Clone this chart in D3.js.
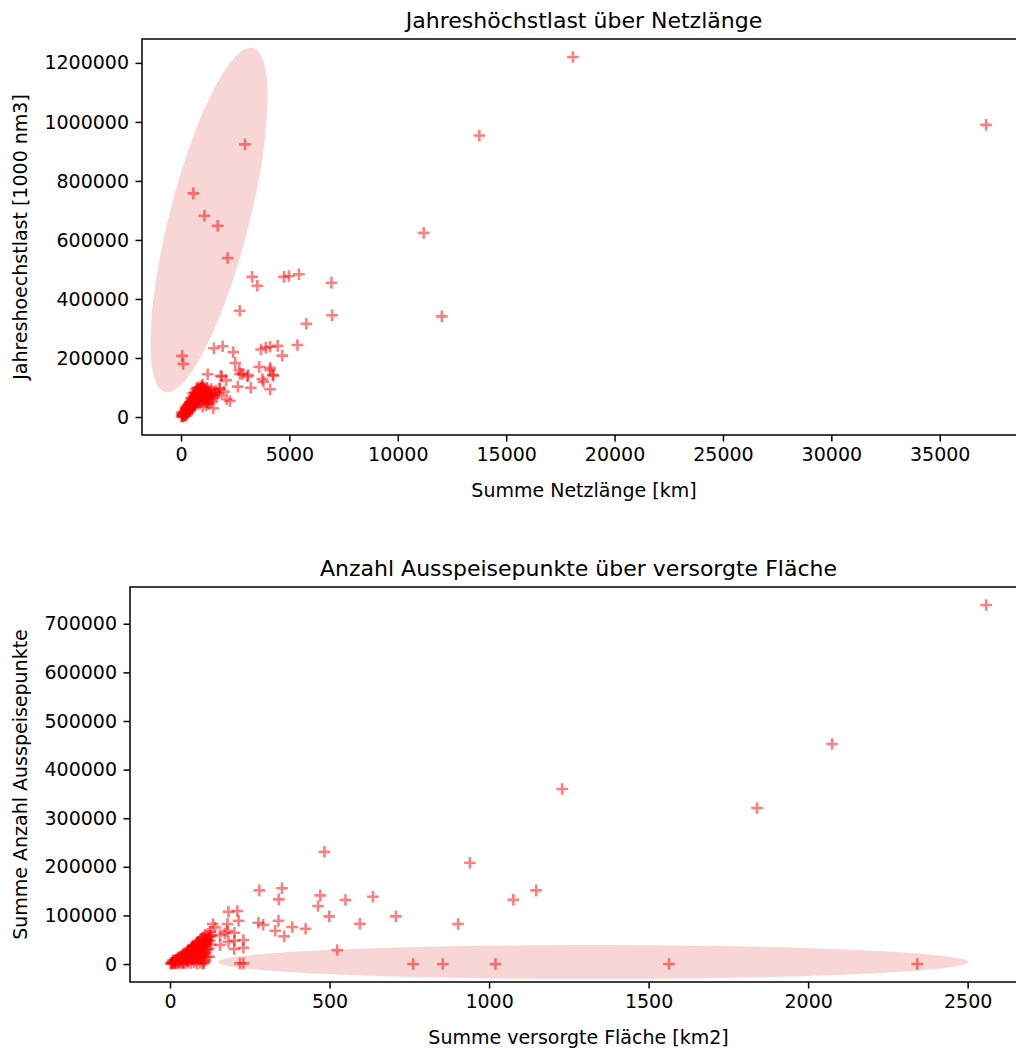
<!DOCTYPE html>
<html>
<head>
<meta charset="utf-8">
<script src="https://cdn.jsdelivr.net/npm/d3@7"></script>
<style>
  html, body { margin: 0; padding: 0; background: #fff; }
  svg { display: block; font-family: "DejaVu Sans", sans-serif; }
</style>
</head>
<body>
<svg id="chart" width="1016" height="1050"></svg>
<script>
// ---------------- DATA ----------------
// Chart 1: Jahreshöchstlast über Netzlänge
const netzlaenge = [
  // outliers / scattered
  18080, 37140, 13760, 2950, 570, 1080, 1690, 2150, 11200, 3280, 3520, 4750, 4980, 5440, 6940,
  2710, 6970, 12030, 5780, 50, 100, 1520, 1920, 2410, 2500, 3690, 3910, 4110, 4460, 5370, 4670,
  1230, 1830, 2720, 3100, 3610, 4110, 4230, 3750, 1880, 2080, 2690, 2830, 3060, 2620, 3220,
  4110, 4260, 3800, 4110, 1770, 1980, 2110, 2260, 1490,
  // dense cluster
  20, 50, 80, 100, 120, 150, 180, 200, 60, 220, 250, 280, 300, 30, 130,
  320, 350, 380, 400, 420, 450, 480, 500, 520, 550, 580, 600, 620, 650, 680, 700, 720, 750, 780, 800,
  400, 350, 450, 300, 550, 500, 600, 650, 250, 200,
  820, 850, 880, 900, 920, 950, 980, 1000, 1030, 1050, 1080, 1100, 1150, 1200, 1250, 1300, 1350,
  1400, 1450, 1500, 1550, 1600, 1100, 1000, 900, 1200, 1300, 700, 750, 1700, 1800, 1650, 1400,
  1150, 850, 1000, 1250,
  100, 150, 200, 250, 300, 350, 400, 450, 500, 550, 600, 650, 700, 750, 800, 850, 900, 950, 1000,
  1050, 1100, 1150, 1200, 1250, 1300, 180, 260, 340, 420, 500, 580, 660, 740, 820, 900, 980, 1060,
  1140, 1220, 1300, 1380, 230, 330, 430, 530, 630, 730, 830, 930
];
const hoechstlast = [
  1220000, 990000, 954000, 924000, 758000, 682000, 648000, 539000, 624000, 475000, 445000, 475000, 478000, 484000, 455000,
  360000, 345000, 341000, 316000, 207000, 180000, 233000, 240000, 220000, 183000, 229000, 235000, 238000, 241000, 244000, 208000,
  145000, 140000, 146000, 142000, 170000, 167000, 143000, 129000, 137000, 125000, 159000, 146000, 137000, 103000, 99000,
  159000, 140000, 120000, 94000, 97000, 86000, 60000, 54000, 29500,
  2000, 5000, 1000, 8000, 3000, 12000, 6000, 15000, 10000, 4000, 20000, 10000, 25000, 15000, 18000,
  15000, 30000, 40000, 22000, 35000, 45000, 28000, 55000, 38000, 60000, 48000, 70000, 42000, 65000, 55000, 80000, 50000, 72000, 62000, 90000,
  50000, 45000, 65000, 40000, 80000, 30000, 35000, 85000, 35000, 30000,
  75000, 100000, 85000, 95000, 68000, 105000, 80000, 110000, 90000, 100000, 75000, 95000, 85000, 100000, 70000, 90000, 80000,
  95000, 65000, 85000, 75000, 90000, 60000, 55000, 50000, 50000, 60000, 95000, 100000, 80000, 95000, 70000, 50000,
  40000, 45000, 35000, 45000,
  10000, 18000, 22000, 28000, 32000, 40000, 45000, 52000, 58000, 62000, 68000, 72000, 78000, 82000, 88000, 92000, 96000, 100000, 98000,
  94000, 90000, 86000, 82000, 78000, 74000, 8000, 12000, 20000, 26000, 34000, 42000, 50000, 56000, 62000, 70000, 76000, 70000,
  64000, 60000, 58000, 80000, 25000, 38000, 48000, 44000, 58000, 66000, 74000, 84000
];

// Chart 2: Anzahl Ausspeisepunkte über versorgte Fläche
const flaeche = [
  // scattered
  2558, 2075, 1840, 1229, 940, 484, 1148, 1076, 280, 351, 341, 471, 464, 550, 636, 499, 708, 903, 595,
  277, 292, 340, 330, 358, 383, 425, 524, 762, 855, 1020, 1564, 2342, 183, 211, 215, 180, 134, 141, 125,
  157, 172, 180, 202, 183, 157, 202, 230, 230, 201, 123, 104, 219, 230,
  // dense cluster
  2, 5, 8, 10, 12, 15, 18, 20, 22, 25, 28, 30, 32, 35, 38, 40, 42, 45, 48, 50, 52, 55, 58, 60, 62, 65,
  68, 70, 72, 75, 78, 80, 82, 85, 88, 90, 92, 95, 98, 100, 102, 105, 108, 110, 112, 115, 118, 120, 122,
  125, 128, 130, 40, 25, 55, 70, 85, 65, 45, 100, 60, 75, 90, 35, 15, 105, 95, 80, 50, 110, 118, 125, 88, 72, 58,
  5, 15, 25, 35, 45, 55, 65, 75, 85, 95, 105, 10, 20, 30, 40, 50, 60, 70, 80, 90, 100, 110,
  25, 35, 45, 55, 65, 75, 85, 95, 105, 115, 42, 52, 62, 72, 82, 92, 102, 112,
  57, 67, 77, 87, 97, 107, 116, 71, 81, 91, 101, 111, 86, 96, 106, 114, 99, 109
];
const ausspeisepunkte = [
  738700, 452700, 321000, 360100, 208400, 231100, 151600, 132300, 151600, 155800, 133100, 141300, 119300, 131700, 138500, 98100, 98100, 82300, 82900,
  85000, 80900, 89100, 68500, 57000, 76100, 72600, 28800, 0, 0, 0, 0, 0, 107600, 109100, 89100, 82300, 82300, 75500, 66500,
  59700, 63200, 67900, 64400, 45900, 39100, 47900, 49400, 33500, 30900, 15000, 1400, 1400, 1400,
  500, 3000, 1000, 6000, 2000, 4000, 8000, 1500, 10000, 5000, 12000, 3000, 15000, 8000, 18000, 11000, 4000, 20000, 14000, 24000, 9000, 18000, 27000, 12000, 30000, 22000,
  34000, 17000, 28000, 38000, 24000, 33000, 42000, 20000, 37000, 46000, 30000, 50000, 40000, 26000, 55000, 45000, 35000, 60000, 50000, 42000, 62000, 55000, 32000,
  48000, 40000, 58000, 2000, 9000, 6000, 10000, 15000, 14000, 16000, 38000, 22000, 30000, 22000, 12000, 7000, 52000, 35000, 26000, 18000, 44000, 50000, 58000, 44000, 36000, 20000,
  2500, 1800, 3000, 2200, 1500, 2800, 2000, 3500, 1200, 2600, 3000, 7500, 8500, 7000, 9000, 8000, 7800, 8800, 7200, 8300, 9500, 7600,
  14000, 16000, 15500, 14500, 16500, 15000, 14200, 15800, 16200, 14800, 21000, 23000, 22500, 21500, 23500, 22000, 21200, 22800,
  29000, 31000, 30500, 29500, 31500, 30000, 29200, 37000, 39000, 38500, 37500, 38200, 44000, 46000, 45000, 44500, 52000, 51000
];

// Highlight ellipses (data coordinates: center, major semi-axis vector, minor semi-axis vector)
const ellipse1Center = [1291, 667800];
const ellipse1Major = [2030, 583000];
const ellipse1Minor = [1780, -33600];
const ellipse2Center = [1326, 4100];
const ellipse2Major = [1175, 0];
const ellipse2Minor = [0, 35000];

// Axis ticks
const xTicks1 = [0, 5000, 10000, 15000, 20000, 25000, 30000, 35000];
const yTicks1 = [0, 200000, 400000, 600000, 800000, 1000000, 1200000];
const xTicks2 = [0, 500, 1000, 1500, 2000, 2500];
const yTicks2 = [0, 100000, 200000, 300000, 400000, 500000, 600000, 700000];

// Texts
const title1 = "Jahreshöchstlast über Netzlänge";
const xLabel1 = "Summe Netzlänge [km]";
const yLabel1 = "Jahreshoechstlast [1000 nm3]";
const title2 = "Anzahl Ausspeisepunkte über versorgte Fläche";
const xLabel2 = "Summe versorgte Fläche [km2]";
const yLabel2 = "Summe Anzahl Ausspeisepunkte";

// ---------------- DRAWING ----------------
const svg = d3.select("#chart");
const FONT = 19;
const TITLE_FONT = 22;
const markerColor = "rgba(255,0,0,0.5)";
const ellipseColor = "rgb(248,214,213)";

function panel(cfg, idx) {
  const { left, right, top, bottom, xDomain, yDomain, xs, ys, xTicks, yTicks, title, xLabel, yLabel, ell } = cfg;
  const x = d3.scaleLinear().domain(xDomain).range([left, right]);
  const y = d3.scaleLinear().domain(yDomain).range([bottom, top]);
  const g = svg.append("g");

  const clipId = "clip" + idx;
  g.append("clipPath").attr("id", clipId)
    .append("rect").attr("x", left).attr("y", top).attr("width", right - left).attr("height", bottom - top);

  const plot = g.append("g").attr("clip-path", `url(#${clipId})`);

  // ellipse
  const ts = d3.range(0, 361, 2).map(a => a * Math.PI / 180);
  const pts = ts.map(t => [
    x(ell.c[0] + ell.a[0] * Math.cos(t) + ell.b[0] * Math.sin(t)),
    y(ell.c[1] + ell.a[1] * Math.cos(t) + ell.b[1] * Math.sin(t))
  ]);
  plot.append("path")
    .attr("d", d3.line().curve(d3.curveLinearClosed)(pts))
    .attr("fill", ellipseColor);

  // markers
  const data = xs.map((v, i) => [v, ys[i]]);
  const h = 5.8;
  plot.append("g").selectAll("path").data(data).join("path")
    .attr("d", d => {
      const px = x(d[0]), py = y(d[1]);
      return `M${px - h},${py}H${px + h}M${px},${py - h}V${py + h}`;
    })
    .attr("stroke", markerColor)
    .attr("stroke-width", 2.6)
    .attr("fill", "none");

  // axes
  const xAxis = d3.axisBottom(x).tickValues(xTicks).tickFormat(d3.format("d")).tickSizeOuter(0).tickSize(6.5).tickPadding(6.5);
  const yAxis = d3.axisLeft(y).tickValues(yTicks).tickFormat(d3.format("d")).tickSizeOuter(0).tickSize(6.5).tickPadding(6.5);
  const gx = g.append("g").attr("transform", `translate(0,${bottom})`).call(xAxis);
  const gy = g.append("g").attr("transform", `translate(${left},0)`).call(yAxis);
  [gx, gy].forEach(a => {
    a.select(".domain").remove();
    a.selectAll("text").attr("font-size", FONT).attr("font-family", "DejaVu Sans").attr("fill", "#000");
    a.selectAll("line").attr("stroke", "#000").attr("stroke-width", 1.5);
  });

  // frame (right side lies beyond the visible picture)
  g.append("rect").attr("x", left).attr("y", top).attr("width", right - left).attr("height", bottom - top)
    .attr("fill", "none").attr("stroke", "#000").attr("stroke-width", 1.5);

  const cx = (left + right) / 2;
  g.append("text").attr("x", cx).attr("y", top - 11).attr("text-anchor", "middle")
    .attr("font-size", TITLE_FONT).attr("fill", "#000").text(title);
  g.append("text").attr("x", cx).attr("y", bottom + 62).attr("text-anchor", "middle")
    .attr("font-size", FONT).attr("fill", "#000").text(xLabel);
  g.append("text").attr("transform", `translate(${cfg.yLabelX},${(top + bottom) / 2}) rotate(-90)`)
    .attr("text-anchor", "middle").attr("font-size", FONT).attr("fill", "#000").text(yLabel);
}

panel({
  left: 142, right: 1026, top: 39, bottom: 435,
  xDomain: [-1800, 38980], yDomain: [-61000, 1281000],
  xs: netzlaenge, ys: hoechstlast, xTicks: xTicks1, yTicks: yTicks1,
  title: title1, xLabel: xLabel1, yLabel: yLabel1, yLabelX: 27,
  ell: { c: ellipse1Center, a: ellipse1Major, b: ellipse1Minor }
}, 1);

panel({
  left: 130, right: 1027, top: 587, bottom: 982,
  xDomain: [-125.4, 2686], yDomain: [-36935, 775635],
  xs: flaeche, ys: ausspeisepunkte, xTicks: xTicks2, yTicks: yTicks2,
  title: title2, xLabel: xLabel2, yLabel: yLabel2, yLabelX: 27,
  ell: { c: ellipse2Center, a: ellipse2Major, b: ellipse2Minor }
}, 2);
</script>
</body>
</html>
